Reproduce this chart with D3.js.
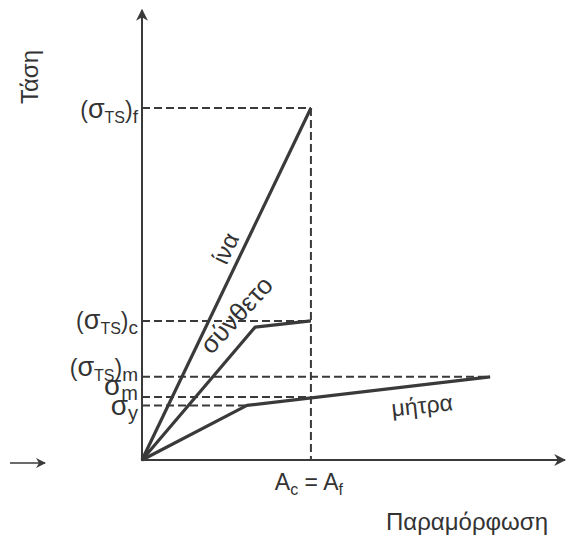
<!DOCTYPE html>
<html>
<head>
<meta charset="utf-8">
<script src="https://cdn.jsdelivr.net/npm/d3@7"></script>
<style>
  body { margin: 0; background: #fff; }
  text { font-family: "Liberation Sans", Arial, sans-serif; fill: #333; }
</style>
</head>
<body>
<div id="chart"></div>
<script>
// curves: strain / stress points (arbitrary units)
var fiberStrain = [0, 41.2];
var fiberStress = [0, 80];
var compStrain = [0, 27.6, 41.2];
var compStress = [0, 30.2, 31.6];
var matrixStrain = [0, 25.6, 84.9];
var matrixStress = [0, 12.4, 18.9];

// reference levels (dashed)
var levelNames = ["f", "c", "m", "sm", "sy"];
var levelStress = [80, 31.6, 18.9, 14.3, 12.4];
var levelStrainEnd = [41.2, 41.2, 84.9, 41.2, 25.6];
var failStrain = 41.2;

var W = 566, H = 542;
var x = d3.scaleLinear().domain([0, 100]).range([142, 552]);
var y = d3.scaleLinear().domain([0, 100]).range([460, 20]);

var svg = d3.select('#chart').append('svg')
  .attr('width', W).attr('height', H);

var ink = '#3a3a3a';

var defs = svg.append('defs');
defs.append('marker')
  .attr('id', 'arr')
  .attr('viewBox', '0 0 10 10')
  .attr('refX', 9).attr('refY', 5)
  .attr('markerWidth', 18).attr('markerHeight', 12)
  .attr('markerUnits', 'userSpaceOnUse')
  .attr('orient', 'auto')
  .append('path').attr('d', 'M0,0 L10,5 L0,10 L3,5 Z').attr('fill', ink);
defs.append('marker')
  .attr('id', 'arrSmall')
  .attr('viewBox', '0 0 10 10')
  .attr('refX', 9).attr('refY', 5)
  .attr('markerWidth', 16).attr('markerHeight', 10)
  .attr('markerUnits', 'userSpaceOnUse')
  .attr('orient', 'auto')
  .append('path').attr('d', 'M0,0 L10,5 L0,10 L3,5 Z').attr('fill', ink);

// axes
svg.append('line')
  .attr('x1', x(0)).attr('y1', y(0) + 1).attr('x2', x(0)).attr('y2', 10)
  .attr('stroke', ink).attr('stroke-width', 2).attr('marker-end', 'url(#arr)');
svg.append('line')
  .attr('x1', x(0) - 1).attr('y1', y(0)).attr('x2', 565).attr('y2', y(0))
  .attr('stroke', ink).attr('stroke-width', 2).attr('marker-end', 'url(#arr)');
// stray arrow at left
svg.append('line')
  .attr('x1', 10).attr('y1', 463).attr('x2', 45).attr('y2', 463)
  .attr('stroke', ink).attr('stroke-width', 1.6).attr('marker-end', 'url(#arrSmall)');

// dashed guides
var dash = svg.append('g')
  .attr('stroke', ink).attr('stroke-width', 2).attr('stroke-dasharray', '8,4').attr('fill', 'none');
levelStress.forEach(function(s, i) {
  dash.append('line')
    .attr('x1', x(0)).attr('y1', y(s))
    .attr('x2', x(levelStrainEnd[i])).attr('y2', y(s));
});
dash.append('line')
  .attr('x1', x(failStrain)).attr('y1', y(fiberStress[1]))
  .attr('x2', x(failStrain)).attr('y2', y(0));

// curves
var line = d3.line().x(function(d) { return x(d[0]); }).y(function(d) { return y(d[1]); });
[[fiberStrain, fiberStress], [compStrain, compStress], [matrixStrain, matrixStress]].forEach(function(c) {
  svg.append('path')
    .datum(d3.zip(c[0], c[1]))
    .attr('d', line)
    .attr('fill', 'none').attr('stroke', ink).attr('stroke-width', 3.2)
    .attr('stroke-linejoin', 'round');
});

// level labels
function sigmaLabel(yy, sub, paren) {
  var t = svg.append('text').attr('x', 138).attr('y', yy).attr('text-anchor', 'end')
    .style('font-size', '23px');
  if (paren) {
    t.append('tspan').text('(');
    t.append('tspan').style('font-size', '27px').text('σ');
    t.append('tspan').attr('dy', 5).style('font-size', '16px').text('TS');
    t.append('tspan').attr('dy', -5).text(')');
    t.append('tspan').attr('dy', 5).style('font-size', '19px').text(sub);
  } else {
    t.append('tspan').style('font-size', '28px').text('σ');
    t.append('tspan').attr('dy', 5).style('font-size', '20px').text(sub);
  }
}
sigmaLabel(y(levelStress[0]) + 10, 'f', true);
sigmaLabel(y(levelStress[1]) + 8, 'c', true);
sigmaLabel(y(levelStress[2]) - 1, 'm', true);
sigmaLabel(y(levelStress[3]) - 2, 'm', false);
sigmaLabel(y(levelStress[4]) + 10, 'y', false);

// curve labels
function angle(x0, y0, x1, y1) {
  return Math.atan2(y(y1) - y(y0), x(x1) - x(x0)) * 180 / Math.PI;
}
svg.append('text')
  .attr('transform', 'translate(' + x(22.2) + ',' + y(47.3) + ') rotate(' + angle(0, 0, fiberStrain[1], fiberStress[1]) + ')')
  .attr('text-anchor', 'middle').style('font-size', '24px').text('ίνα');
svg.append('text')
  .attr('transform', 'translate(' + x(24.6) + ',' + y(31.6) + ') rotate(' + (angle(0, 0, compStrain[1], compStress[1]) + 2) + ')')
  .attr('text-anchor', 'middle').style('font-size', '26px').text('σύνθετο');
svg.append('text')
  .attr('transform', 'translate(' + x(68.5) + ',' + y(10.6) + ') rotate(-6)')
  .attr('text-anchor', 'middle').style('font-size', '23px').text('μήτρα');

// axis titles
svg.append('text')
  .attr('transform', 'translate(38,77) rotate(-90)')
  .attr('text-anchor', 'middle').style('font-size', '24px').text('Τάση');
svg.append('text')
  .attr('x', 467).attr('y', 530)
  .attr('text-anchor', 'middle').style('font-size', '24px').text('Παραμόρφωση');

var ac = svg.append('text').attr('x', x(failStrain) - 2).attr('y', 490)
  .attr('text-anchor', 'middle').style('font-size', '23px');
ac.append('tspan').text('A');
ac.append('tspan').attr('dy', 5).style('font-size', '16px').text('c');
ac.append('tspan').attr('dy', -5).text(' = A');
ac.append('tspan').attr('dy', 5).style('font-size', '16px').text('f');
</script>
</body>
</html>
